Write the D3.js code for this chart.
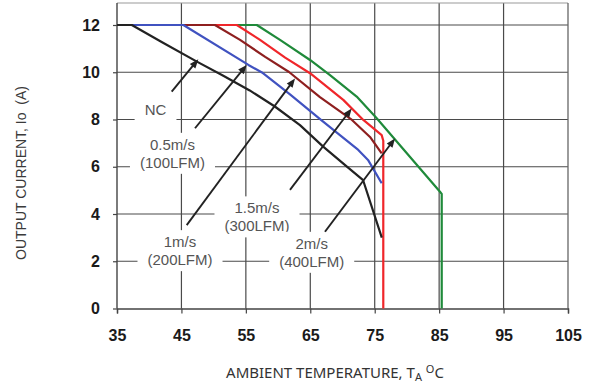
<!DOCTYPE html>
<html>
<head>
<meta charset="utf-8">
<script src="https://cdn.jsdelivr.net/npm/d3@7"></script>
<style>
  body { margin: 0; background: #fff; }
  svg { display: block; }
</style>
</head>
<body>
<div id="chart"></div>
<script>
// derating curves, output current vs ambient temperature
var xTicks = [35, 45, 55, 65, 75, 85, 95, 105];
var yTicks = [0, 2, 4, 6, 8, 10, 12];

var ncPts = [[35,12],[37.3,12],[42,11.27],[47.4,10.45],[51.5,9.85],[55.6,9.23],[59.5,8.55],[63.4,7.76],[67,6.85],[70.5,6.05],[73.2,5.43],[76.1,3.0]];
var lfm100Pts = [[35,12],[45.3,12],[55.4,10.31],[57.5,9.99],[61.85,9.06],[66.66,7.98],[69.6,7.34],[72.45,6.71],[73.96,6.29],[76.08,5.3]];
var lfm200Pts = [[35,12],[50.2,12],[54.1,11.37],[58,10.65],[61.7,10.01],[66.5,8.95],[71.47,7.98],[74.27,7.26],[76.08,6.57]];
var lfm300Pts = [[35,12],[53.6,12],[57.2,11.37],[61.1,10.62],[64.96,9.96],[70.12,8.83],[73.23,7.98],[76.08,7.34],[76.33,7.1],[76.33,0]];
var lfm400Pts = [[35,12],[56.7,12],[60.3,11.37],[64.96,10.52],[68.06,9.88],[72.2,8.97],[75.31,8.05],[85.13,4.94],[85.4,4.85],[85.4,0]];

// drawn bottom to top
var seriesPts = [lfm400Pts, lfm300Pts, lfm200Pts, lfm100Pts, ncPts];
var seriesColors = ["#1f8a3a", "#f0262a", "#8e1f1f", "#4052c0", "#222222"];

var labelLines = [["NC"], ["0.5m/s", "(100LFM)"], ["1m/s", "(200LFM)"], ["1.5m/s", "(300LFM)"], ["2m/s", "(400LFM)"]];
var labelAt = [[40.97, 8.42], [43.61, 6.56], [44.78, 2.44], [56.73, 3.87], [65.22, 2.37]];

var arrowFrom = [[43.49, 9.18], [47.11, 7.63], [45.82, 3.53], [61.85, 5.02], [67.28, 3.25]];
var arrowTo = [[47.62, 10.55], [55.13, 10.31], [62.63, 9.74], [71.43, 8.47], [78.15, 7.2]];

var svgWidth = 591;
var svgHeight = 389;

var svg = d3.select("#chart")
    .append("svg")
    .attr("width", svgWidth)
    .attr("height", svgHeight);

var x = d3.scaleLinear().domain([35, 105]).range([117, 568]);
var y = d3.scaleLinear().domain([0, 12]).range([308.5, 25]);
var plotTop = 3;

var gridColor = "#4a4a4a";

// grid
svg.append("g").selectAll("line")
    .data(xTicks.slice(1, -1))
    .enter().append("line")
    .attr("x1", d => x(d)).attr("x2", d => x(d))
    .attr("y1", plotTop).attr("y2", y(0))
    .attr("stroke", gridColor).attr("stroke-width", 1.2);

svg.append("g").selectAll("line")
    .data(yTicks.slice(1))
    .enter().append("line")
    .attr("x1", x(35)).attr("x2", x(105))
    .attr("y1", d => y(d)).attr("y2", d => y(d))
    .attr("stroke", gridColor).attr("stroke-width", 1.2);

// frame
svg.append("line").attr("x1", x(35)).attr("x2", x(105)).attr("y1", plotTop).attr("y2", plotTop)
    .attr("stroke", "#999").attr("stroke-width", 1);
svg.append("line").attr("x1", x(105)).attr("x2", x(105)).attr("y1", plotTop).attr("y2", y(0))
    .attr("stroke", "#666").attr("stroke-width", 1.3);

// axes
var xAxis = d3.axisBottom(x).tickValues(xTicks).tickSize(5).tickPadding(16).tickFormat(d3.format("d"));
var yAxis = d3.axisLeft(y).tickValues(yTicks).tickSize(4).tickPadding(13).tickFormat(d3.format("d"));

var gx = svg.append("g").attr("transform", `translate(0,${y(0)})`).call(xAxis);
var gy = svg.append("g").attr("transform", `translate(${x(35)},0)`).call(yAxis);

gy.select(".domain").attr("d", `M0,${plotTop}V${y(0)}`);

[gx, gy].forEach(function(g) {
    g.select(".domain").attr("stroke", "#444").attr("stroke-width", 1.4);
    g.selectAll(".tick line").attr("stroke", "#444").attr("stroke-width", 1.2);
    g.selectAll(".tick text")
        .attr("fill", "#1a1a1a")
        .style("font-family", "'Liberation Sans', Arial, sans-serif")
        .style("font-weight", "bold")
        .style("font-size", "16px");
});

// label backgrounds + text
var labelFont = "'Liberation Sans', Arial, sans-serif";
var lineGap = 18;
labelLines.forEach(function(lines, i) {
    var cx = x(labelAt[i][0]);
    var cy = y(labelAt[i][1]);
    var g = svg.append("g");
    var bg = g.append("rect").attr("fill", "#fff");
    var t = g.append("text")
        .attr("text-anchor", "middle")
        .attr("fill", "#555")
        .style("font-family", labelFont)
        .style("font-size", "15px");
    var first = cy - (lines.length - 1) * lineGap / 2 + 5.3;
    lines.forEach(function(s, k) {
        t.append("tspan").attr("x", cx).attr("y", first + k * lineGap).text(s);
    });
    var bb = t.node().getBBox();
    bg.attr("x", bb.x - 10).attr("y", bb.y - 3).attr("width", bb.width + 20).attr("height", bb.height + 6);
});

// curves
var line = d3.line().x(d => x(d[0])).y(d => y(d[1]));
svg.append("g").selectAll("path")
    .data(seriesPts)
    .enter().append("path")
    .attr("d", line)
    .attr("fill", "none")
    .attr("stroke", (d, i) => seriesColors[i])
    .attr("stroke-width", 2.2)
    .attr("stroke-linejoin", "round");

// arrows
var headLen = 9, headHalf = 3.6;
arrowFrom.forEach(function(p, i) {
    var x1 = x(p[0]), y1 = y(p[1]);
    var x2 = x(arrowTo[i][0]), y2 = y(arrowTo[i][1]);
    var dx = x2 - x1, dy = y2 - y1;
    var len = Math.sqrt(dx * dx + dy * dy);
    var ux = dx / len, uy = dy / len;
    var bx = x2 - ux * headLen, by = y2 - uy * headLen;
    svg.append("line")
        .attr("x1", x1).attr("y1", y1)
        .attr("x2", bx + ux * 1).attr("y2", by + uy * 1)
        .attr("stroke", "#222").attr("stroke-width", 1.9);
    svg.append("path")
        .attr("d", `M${x2},${y2}L${bx - uy * headHalf},${by + ux * headHalf}L${bx + uy * headHalf},${by - ux * headHalf}Z`)
        .attr("fill", "#222");
});

// axis titles
svg.append("text")
    .attr("transform", "translate(26,173) rotate(-90)")
    .attr("text-anchor", "middle")
    .attr("fill", "#3a3a3a")
    .style("font-family", labelFont)
    .style("font-size", "14px")
    .style("white-space", "pre")
    .text("OUTPUT CURRENT, Io  (A)");

var xt = svg.append("text")
    .attr("x", 335)
    .attr("y", 378)
    .attr("text-anchor", "middle")
    .attr("fill", "#333")
    .style("font-family", "'Noto Sans', sans-serif")
    .style("font-size", "15px");
xt.append("tspan").text("AMBIENT TEMPERATURE, T");
xt.append("tspan").attr("dy", 3).style("font-size", "11px").text("A");
xt.append("tspan").attr("dy", -3).text(" ");
xt.append("tspan").attr("dy", -5).style("font-size", "11px").text("O");
xt.append("tspan").attr("dy", 5).text("C");
</script>
</body>
</html>
